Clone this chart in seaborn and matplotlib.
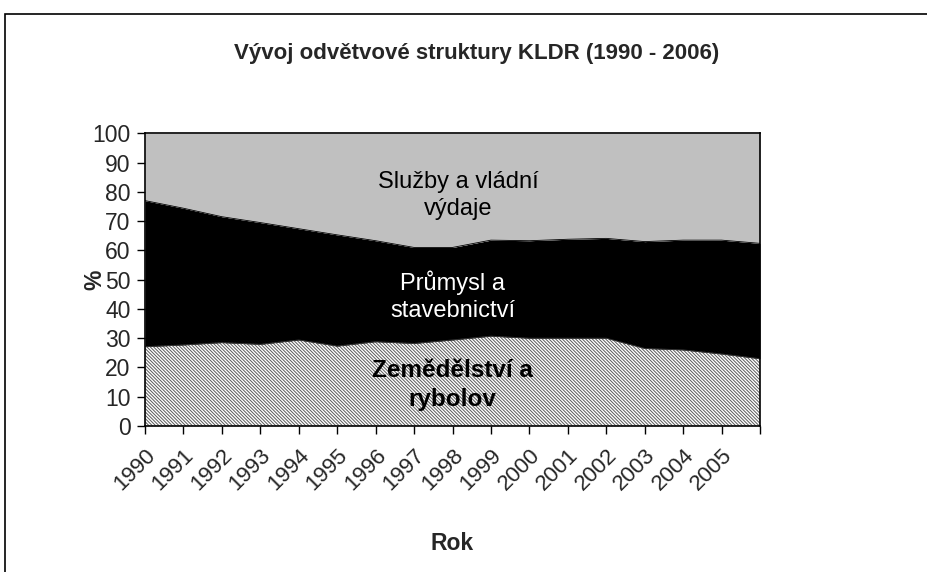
import matplotlib
matplotlib.use("Agg")
import matplotlib.pyplot as plt
import numpy as np
import pandas as pd
import seaborn as sns

# Shares of GDP by sector (%)
years = list(range(1990, 2007))
zemedelstvi = [27.1, 27.7, 28.5, 27.9, 29.4, 27.3, 28.8, 28.2, 29.4, 30.7, 30.0, 30.0, 30.0, 26.5, 26.0, 24.6, 23.0]
prumysl = [49.9, 46.7, 43.0, 41.6, 38.0, 38.0, 34.5, 32.8, 31.6, 32.8, 33.3, 33.8, 34.1, 36.5, 37.5, 38.9, 39.4]
sluzby = [23.0, 25.6, 28.5, 30.5, 32.6, 34.7, 36.7, 39.0, 39.0, 36.5, 36.7, 36.2, 35.9, 37.0, 36.5, 36.5, 37.6]
tick_labels = [str(y) for y in years[:-1]] + [""]

df = pd.DataFrame({"rok": years, "zem": zemedelstvi, "prum": prumysl, "sluz": sluzby})

sns.set_theme(style="white")
plt.rcParams["font.family"] = ["Liberation Sans", "DejaVu Sans"]
plt.rcParams["hatch.color"] = "#5a5a5a"
plt.rcParams["hatch.linewidth"] = 0.7

fig = plt.figure(figsize=(9.28, 5.72), dpi=100)
ax = fig.add_axes([145 / 928, 1 - 426 / 572, (760 - 145) / 928, (426 - 133.3) / 572])

polys = ax.stackplot(df["rok"], df["zem"], df["prum"], df["sluz"],
                     colors=["white", "black", "#c0c0c0"], linewidth=0)
polys[0].set_hatch("\\" * 10)
polys[0].set_edgecolor("#5a5a5a")
polys[0].set_linewidth(0)

# thin boundary lines via seaborn
top1 = df["zem"]
top2 = df["zem"] + df["prum"]
sns.lineplot(x=df["rok"], y=top1, color="#3a3a3a", linewidth=0.6, ax=ax)
sns.lineplot(x=df["rok"], y=top2, color="black", linewidth=0.6, ax=ax)

ax.set_xlim(years[0], years[-1])
ax.set_ylim(0, 100)
ax.set_yticks(range(0, 101, 10))
ax.set_xticks(years)
ax.set_xticklabels(tick_labels, rotation=45, ha="right", rotation_mode="anchor", fontsize=16)
ax.tick_params(direction="out", length=5.5, width=1, color="black", bottom=True, left=True)
ax.tick_params(axis="y", labelsize=16.5, pad=5)
ax.tick_params(axis="x", pad=8)
for s in ax.spines.values():
    s.set_color("black")
    s.set_linewidth(1.2)
ax.set_xlabel("")
ax.set_ylabel("")

fig.text(452 / 928, 1 - 543 / 572, "Rok", ha="center", va="center",
         fontsize=16.5, fontweight="bold")
fig.text(95 / 928, 1 - 280 / 572, "%", ha="center", va="center",
         fontsize=16.5, fontweight="bold", rotation=90)

ax.text(1998.15, 78.9, "Služby a vládní\nvýdaje", ha="center", va="center",
        fontsize=17, color="black", linespacing=1.3)
ax.text(1998.0, 44.4, "Průmysl a\nstavebnictví", ha="center", va="center",
        fontsize=17, color="white", linespacing=1.3)
ax.text(1998.0, 14.0, "Zemědělství a\nrybolov", ha="center", va="center",
        fontsize=17.5, color="black", fontweight="bold", linespacing=1.3)

fig.text(477 / 928, 1 - 53 / 572, "Vývoj odvětvové struktury KLDR (1990 - 2006)",
         ha="center", va="center", fontsize=16, fontweight="bold")

# outer chart-area frame
fig.patches.append(plt.Rectangle((5 / 928, -0.05), 1.1, 1 - 14 / 572 + 0.05,
                                 transform=fig.transFigure, fill=False,
                                 edgecolor="black", linewidth=1.2))

fig.savefig("out.png", dpi=100)
